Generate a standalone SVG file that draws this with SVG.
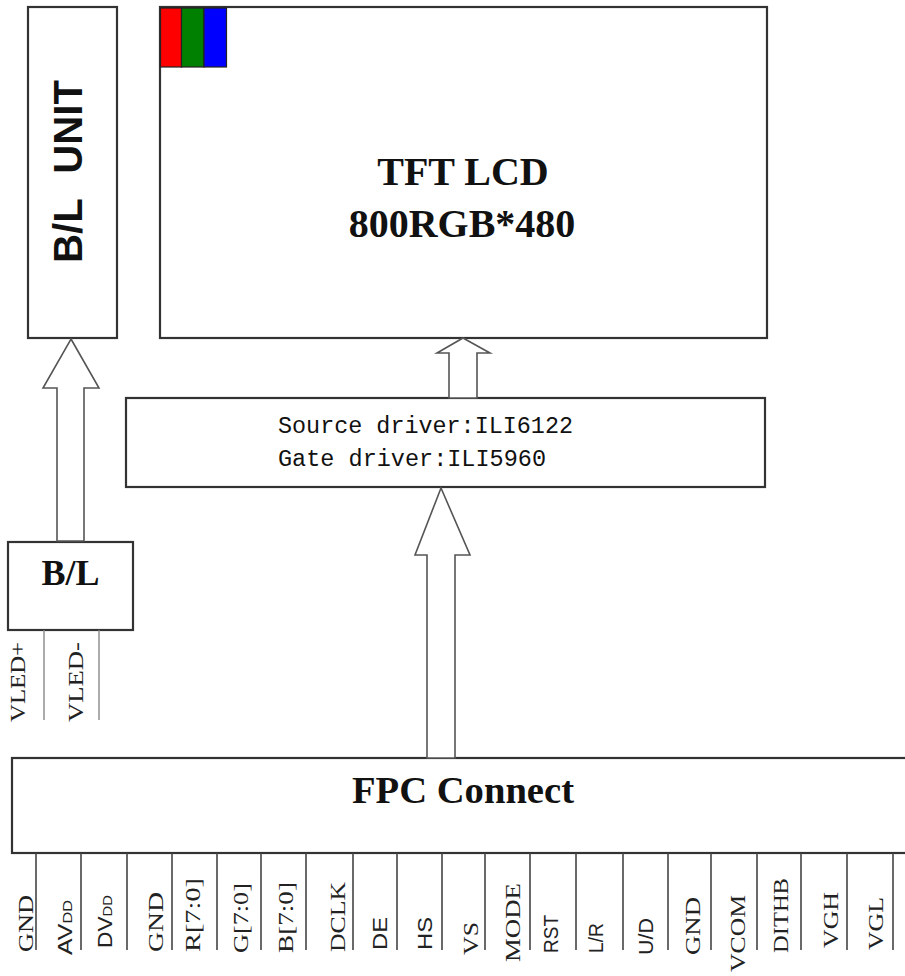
<svg xmlns="http://www.w3.org/2000/svg" width="905" height="976" viewBox="0 0 905 976">
<style>
.box{fill:#fff;stroke:#333;stroke-width:2.2}
.arrow{fill:#fff;stroke:#555;stroke-width:1.6;stroke-linejoin:miter}
.wire{stroke:#888;stroke-width:1.4;fill:none}
.pin{stroke:#444;stroke-width:1.6}
.serifb{font-family:"Liberation Serif","Times New Roman",serif;font-weight:bold;fill:#111}
.sansb{font-family:"Liberation Sans",Arial,sans-serif;font-weight:bold;fill:#111}
.mono{font-family:"Liberation Mono","Courier New",monospace;fill:#111}
.lbl{font-family:"Liberation Serif","Times New Roman",serif;fill:#222;font-size:22px}
.lbls{font-family:"Liberation Sans",Arial,sans-serif;fill:#222;font-size:20px}
</style>
<rect width="905" height="976" fill="#fff"/>

<g id="bl-unit">
<rect class="box" x="28" y="7" width="89" height="331"/>
<text class="sansb" font-size="40" word-spacing="14" transform="translate(82,263) rotate(-90)" textLength="183" lengthAdjust="spacingAndGlyphs">B/L UNIT</text>
</g>

<g id="tft-lcd">
<rect class="box" x="160" y="7" width="607" height="331"/>
<rect x="160.5" y="8" width="21" height="59" fill="#f00" stroke="#222" stroke-width="1.2"/>
<rect x="181.5" y="8" width="22.5" height="59" fill="#008000" stroke="#222" stroke-width="1.2"/>
<rect x="204" y="8" width="22.5" height="59" fill="#00f" stroke="#222" stroke-width="1.2"/>
<text class="serifb" font-size="40" x="463" y="185" text-anchor="middle">TFT LCD</text>
<text class="serifb" font-size="40" x="462" y="237" text-anchor="middle">800RGB*480</text>
</g>

<g id="driver">
<rect class="box" x="126" y="398" width="639" height="89"/>
<text class="mono" font-size="23" x="278" y="433" textLength="295" lengthAdjust="spacingAndGlyphs">Source driver:ILI6122</text>
<text class="mono" font-size="23" x="278" y="466" textLength="268" lengthAdjust="spacingAndGlyphs">Gate driver:ILI5960</text>
</g>

<g id="bl">
<rect class="box" x="8" y="542" width="125" height="88"/>
<text class="serifb" font-size="36" x="70.5" y="585" text-anchor="middle">B/L</text>
</g>

<g id="fpc">
<rect class="box" x="12" y="758" width="900" height="95"/>
<text class="serifb" font-size="38" x="463" y="803" text-anchor="middle" textLength="222" lengthAdjust="spacingAndGlyphs">FPC Connect</text>
</g>

<g id="connectors">
<polygon class="arrow" points="71,339 99,388 84,388 84,541 57,541 57,388 43,388"/>
<polygon class="arrow" points="463,338 490,353 477,353 477,398 449,398 449,353 437,353"/>
<polygon class="arrow" points="441,488 470,555 455,555 455,758 427,758 427,555 415,555"/>
<line class="wire" x1="44" y1="630" x2="44" y2="720"/>
<line class="wire" x1="99" y1="630" x2="99" y2="720"/>
</g>

<g id="vled-labels">
<text class="lbl" font-size="24" transform="translate(25,722) rotate(-90)" textLength="80" lengthAdjust="spacingAndGlyphs">VLED+</text>
<text class="lbl" font-size="24" transform="translate(83,722) rotate(-90)" textLength="80" lengthAdjust="spacingAndGlyphs">VLED-</text>
</g>

<g id="pins">
<line class="pin" x1="36" y1="853" x2="36" y2="950"/>
<line class="pin" x1="81" y1="853" x2="81" y2="950"/>
<line class="pin" x1="127" y1="853" x2="127" y2="950" stroke="#aaa"/>
<line class="pin" x1="172" y1="853" x2="172" y2="950"/>
<line class="pin" x1="217" y1="853" x2="217" y2="950"/>
<line class="pin" x1="261" y1="853" x2="261" y2="950"/>
<line class="pin" x1="306" y1="853" x2="306" y2="950"/>
<line class="pin" x1="353" y1="853" x2="353" y2="950"/>
<line class="pin" x1="397" y1="853" x2="397" y2="950"/>
<line class="pin" x1="442" y1="853" x2="442" y2="950"/>
<line class="pin" x1="485" y1="853" x2="485" y2="950"/>
<line class="pin" x1="530" y1="853" x2="530" y2="950"/>
<line class="pin" x1="576" y1="853" x2="576" y2="950"/>
<line class="pin" x1="623" y1="853" x2="623" y2="950"/>
<line class="pin" x1="668" y1="853" x2="668" y2="950"/>
<line class="pin" x1="711" y1="853" x2="711" y2="950"/>
<line class="pin" x1="757" y1="853" x2="757" y2="950"/>
<line class="pin" x1="801" y1="853" x2="801" y2="950"/>
<line class="pin" x1="847" y1="853" x2="847" y2="950"/>
<line class="pin" x1="893" y1="853" x2="893" y2="950"/>

<text class="lbl" transform="translate(33,952) rotate(-90)" textLength="57" lengthAdjust="spacingAndGlyphs">GND</text>
<text class="lbls" transform="translate(72,955) rotate(-90)" textLength="55" lengthAdjust="spacingAndGlyphs">AV<tspan font-size="13">DD</tspan></text>
<text class="lbls" transform="translate(112,948) rotate(-90)" textLength="53" lengthAdjust="spacingAndGlyphs">DV<tspan font-size="13">DD</tspan></text>
<text class="lbl" transform="translate(163,952) rotate(-90)" textLength="60" lengthAdjust="spacingAndGlyphs">GND</text>
<text class="lbl" transform="translate(200,952) rotate(-90)" textLength="74" lengthAdjust="spacingAndGlyphs">R[7:0]</text>
<text class="lbl" transform="translate(248,953) rotate(-90)" textLength="70" lengthAdjust="spacingAndGlyphs">G[7:0]</text>
<text class="lbl" transform="translate(293,953) rotate(-90)" textLength="71" lengthAdjust="spacingAndGlyphs">B[7:0]</text>
<text class="lbl" transform="translate(345,952) rotate(-90)" textLength="70" lengthAdjust="spacingAndGlyphs">DCLK</text>
<text class="lbls" transform="translate(387,950) rotate(-90)" textLength="33" lengthAdjust="spacingAndGlyphs">DE</text>
<text class="lbls" transform="translate(432,950) rotate(-90)" textLength="33" lengthAdjust="spacingAndGlyphs">HS</text>
<text class="lbl" transform="translate(478,955) rotate(-90)" textLength="33" lengthAdjust="spacingAndGlyphs">VS</text>
<text class="lbl" transform="translate(520,962) rotate(-90)" textLength="79" lengthAdjust="spacingAndGlyphs">MODE</text>
<text class="lbls" font-size="17" transform="translate(558,953) rotate(-90)" textLength="38" lengthAdjust="spacingAndGlyphs">RST</text>
<text class="lbls" transform="translate(603,953) rotate(-90)" textLength="30" lengthAdjust="spacingAndGlyphs">L/R</text>
<text class="lbls" transform="translate(653,955) rotate(-90)" textLength="37" lengthAdjust="spacingAndGlyphs">U/D</text>
<text class="lbl" transform="translate(700,955) rotate(-90)" textLength="58" lengthAdjust="spacingAndGlyphs">GND</text>
<text class="lbl" transform="translate(745,972) rotate(-90)" textLength="77" lengthAdjust="spacingAndGlyphs">VCOM</text>
<text class="lbl" transform="translate(788,953) rotate(-90)" textLength="75" lengthAdjust="spacingAndGlyphs">DITHB</text>
<text class="lbl" transform="translate(838,948) rotate(-90)" textLength="56" lengthAdjust="spacingAndGlyphs">VGH</text>
<text class="lbl" transform="translate(883,950) rotate(-90)" textLength="53" lengthAdjust="spacingAndGlyphs">VGL</text>
</g>
</svg>
